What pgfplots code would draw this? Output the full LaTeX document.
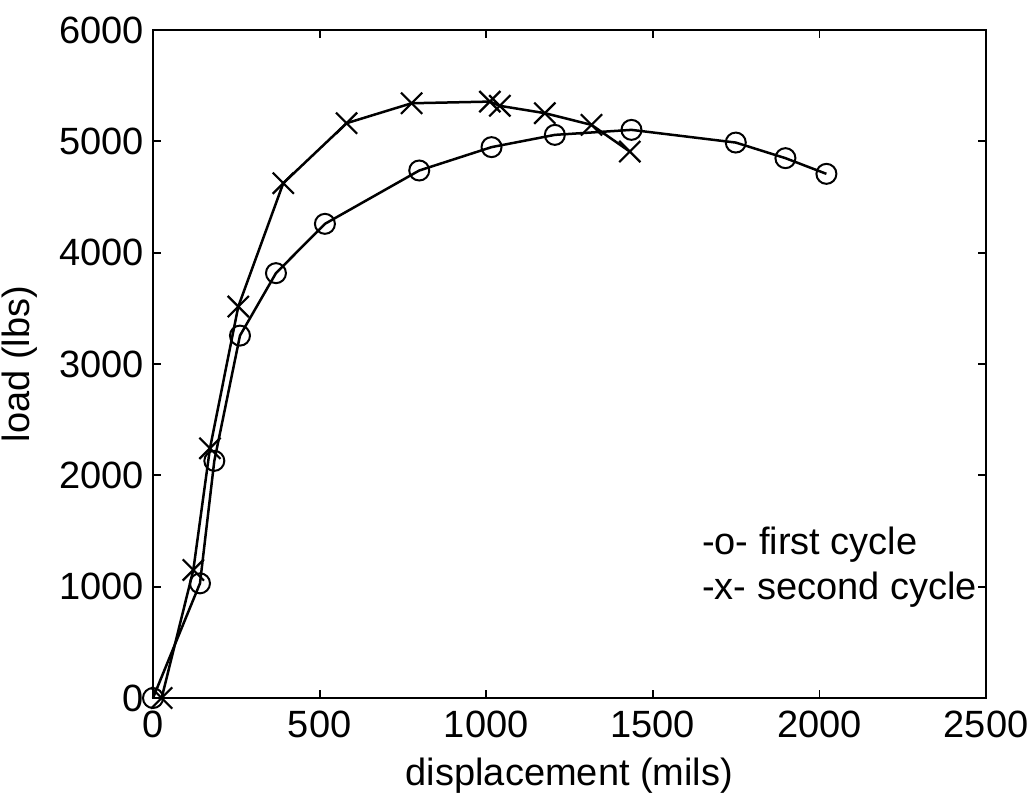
\documentclass[border=0pt]{standalone}
\usepackage{fontspec}
\setmainfont{Liberation Sans}
\usepackage{pgfplots}
\pgfplotsset{compat=1.18}

\begin{document}
\begin{tikzpicture}
\fontsize{19}{22}\selectfont
\begin{axis}[
    name=ax,
    at={(0,0)}, anchor=south west,
    width=416.5pt, height=334pt,
    scale only axis,
    xmin=0, xmax=2500,
    ymin=0, ymax=6000,
    xtick={0,500,...,2500},
    ytick={0,1000,...,6000},
    tick align=inside,
    major tick length=4pt,
    axis line style={line width=0.9pt},
    tick style={line width=0.9pt, black},
    xlabel={displacement (mils)},
    ylabel={load (lbs)},
    xlabel style={yshift=3pt},
    ylabel style={yshift=-2pt},
    ticklabel style={font=\fontsize{19}{22}\selectfont},
    label style={font=\fontsize{19}{22}\selectfont},
    /pgf/number format/assume math mode=true,
    /pgf/number format/1000 sep={},
    scaled ticks=false,
    yticklabel style={xshift=2pt},
    clip=false,
]
% first cycle
\addplot[black, line width=1.25pt, mark=o, mark size=5pt, mark options={line width=1pt}] coordinates {
    (0, 0)
    (141, 1030)
    (184, 2130)
    (261, 3255)
    (369, 3816)
    (516, 4259)
    (799, 4738)
    (1016, 4948)
    (1206, 5058)
    (1436, 5103)
    (1749, 4989)
    (1898, 4849)
    (2021, 4708)
};
% second cycle
\addplot[black, line width=1.25pt, mark=x, mark size=7.5pt, mark options={line width=1.1pt}] coordinates {
    (26, 0)
    (121, 1150)
    (171, 2243)
    (256, 3516)
    (391, 4624)
    (581, 5163)
    (776, 5342)
    (1011, 5357)
    (1041, 5319)
    (1176, 5253)
    (1316, 5148)
    (1431, 4908)
};
\node[anchor=west, inner sep=0pt] at (axis cs:1647,1375) {-o- first cycle};
\node[anchor=west, inner sep=0pt] at (axis cs:1647,975) {-x- second cycle};
\end{axis}
\pgfresetboundingbox
\path (ax.south west) ++(-76.5pt,-52pt) coordinate (bl);
\path (ax.north east) ++(24pt,15pt) coordinate (tr);
\path[use as bounding box] (bl) rectangle (tr);
\end{tikzpicture}
\end{document}
